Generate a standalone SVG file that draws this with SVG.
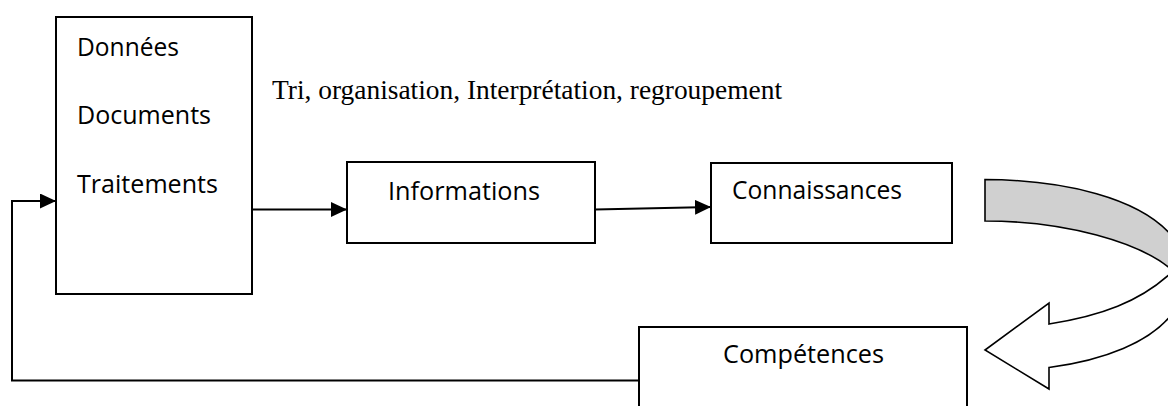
<svg xmlns="http://www.w3.org/2000/svg" width="1168" height="406" viewBox="0 0 1168 406">
  <style>
    .box { fill: #ffffff; stroke: #000000; stroke-width: 2; }
    .lbl { font-family: "Open Sans", "Liberation Sans", sans-serif; font-size: 26px; fill: #000000; }
    .note { font-family: "Liberation Serif", "Times New Roman", serif; font-size: 27px; fill: #000000; }
    .wire { fill: none; stroke: #000000; stroke-width: 2; }
    .wire-arrow { marker-end: url(#head); }
    .bend { stroke: #000000; stroke-width: 1.6; stroke-linejoin: miter; }
  </style>
  <defs>
    <marker id="head" markerUnits="userSpaceOnUse" markerWidth="16" markerHeight="15" viewBox="0 0 16 15" refX="16" refY="7.5" orient="auto">
      <path d="M0,0 L16,7.5 L0,15 Z" fill="#000000"/>
    </marker>
  </defs>

  <rect width="1168" height="406" fill="#ffffff"/>

  <!-- source box: data, documents, processing -->
  <g id="sources">
    <rect class="box" x="56" y="17" width="196" height="277"/>
    <text class="lbl" x="77" y="56" textLength="102" lengthAdjust="spacingAndGlyphs">Données</text>
    <text class="lbl" x="77" y="124" textLength="134" lengthAdjust="spacingAndGlyphs">Documents</text>
    <text class="lbl" x="77" y="193" textLength="141" lengthAdjust="spacingAndGlyphs">Traitements</text>
  </g>

  <!-- processing steps caption -->
  <g id="caption">
    <text class="note" x="272" y="99" textLength="510" lengthAdjust="spacingAndGlyphs">Tri, organisation, Interprétation, regroupement</text>
  </g>

  <g id="informations">
    <rect class="box" x="347" y="162" width="248" height="81"/>
    <text class="lbl" x="388" y="200" textLength="152" lengthAdjust="spacingAndGlyphs">Informations</text>
  </g>

  <g id="connaissances">
    <rect class="box" x="711" y="163" width="241" height="80"/>
    <text class="lbl" x="732" y="199" textLength="170" lengthAdjust="spacingAndGlyphs">Connaissances</text>
  </g>

  <g id="competences">
    <rect class="box" x="639" y="327" width="328" height="100"/>
    <text class="lbl" x="723" y="363" textLength="161" lengthAdjust="spacingAndGlyphs">Compétences</text>
  </g>

  <!-- curved block arrow from knowledge down to skills -->
  <g id="bend-arrow">
    <path class="bend" fill="#d0d0d0" d="M985,179.5 C1065,180 1140,198 1172,236 L1172,270 C1140,242 1065,221 985,221 Z"/>
    <path class="bend" fill="#ffffff" d="M1172,272 C1140,302 1100,316 1049,324 L1049,303 L985,350 L1049,389 L1049,367.5 C1105,360 1150,342 1172,314 Z"/>
  </g>

  <g id="connectors">
    <path class="wire wire-arrow" d="M252,209.5 L347,209.5"/>
    <path class="wire wire-arrow" d="M595,209.5 L711,207"/>
    <path class="wire wire-arrow" d="M639,380.5 L12,380.5 L12,201 L56,201"/>
  </g>
</svg>
